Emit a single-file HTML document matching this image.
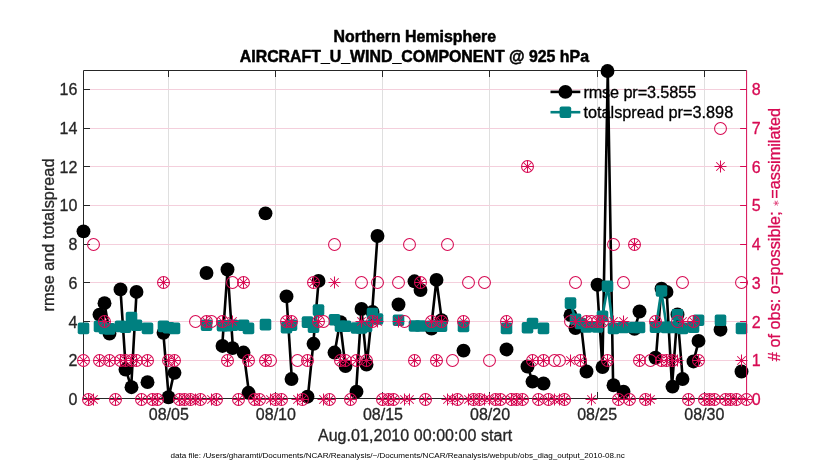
<!DOCTYPE html>
<html lang="en"><head><meta charset="utf-8"><title>Northern Hemisphere AIRCRAFT_U_WIND_COMPONENT @ 925 hPa</title>
<style>html,body{margin:0;padding:0;background:#fff}svg{display:block}text{font-family:"Liberation Sans",Arial,Helvetica,sans-serif;stroke-width:.3px;stroke-linejoin:round}.k{stroke:#000}.d{stroke:#262626}.r{stroke:#D70A53}.b{stroke:#000;stroke-width:.5px}</style></head><body>
<svg width="830" height="470" viewBox="0 0 830 470">
<rect width="830" height="470" fill="#fff"/>
<g stroke="#dfdfdf" stroke-width="1">
<line x1="168.5" y1="70.5" x2="168.5" y2="398.5"/>
<line x1="275.5" y1="70.5" x2="275.5" y2="398.5"/>
<line x1="382.5" y1="70.5" x2="382.5" y2="398.5"/>
<line x1="489.5" y1="70.5" x2="489.5" y2="398.5"/>
<line x1="597.5" y1="70.5" x2="597.5" y2="398.5"/>
<line x1="704.5" y1="70.5" x2="704.5" y2="398.5"/>
</g>
<g stroke="#f4cfdc" stroke-width="1">
<line x1="83.5" y1="360.5" x2="746.6" y2="360.5"/>
<line x1="83.5" y1="321.5" x2="746.6" y2="321.5"/>
<line x1="83.5" y1="282.5" x2="746.6" y2="282.5"/>
<line x1="83.5" y1="244.5" x2="746.6" y2="244.5"/>
<line x1="83.5" y1="205.5" x2="746.6" y2="205.5"/>
<line x1="83.5" y1="166.5" x2="746.6" y2="166.5"/>
<line x1="83.5" y1="128.5" x2="746.6" y2="128.5"/>
<line x1="83.5" y1="89.5" x2="746.6" y2="89.5"/>
</g>
<g stroke="#262626" stroke-width="1" fill="none">
<path d="M746.6,70.5H83.5V398.5H746.6"/>
<line x1="168.5" y1="70.5" x2="168.5" y2="77.0"/>
<line x1="168.5" y1="398.5" x2="168.5" y2="392.0"/>
<line x1="275.5" y1="70.5" x2="275.5" y2="77.0"/>
<line x1="275.5" y1="398.5" x2="275.5" y2="392.0"/>
<line x1="382.5" y1="70.5" x2="382.5" y2="77.0"/>
<line x1="382.5" y1="398.5" x2="382.5" y2="392.0"/>
<line x1="489.5" y1="70.5" x2="489.5" y2="77.0"/>
<line x1="489.5" y1="398.5" x2="489.5" y2="392.0"/>
<line x1="597.5" y1="70.5" x2="597.5" y2="77.0"/>
<line x1="597.5" y1="398.5" x2="597.5" y2="392.0"/>
<line x1="704.5" y1="70.5" x2="704.5" y2="77.0"/>
<line x1="704.5" y1="398.5" x2="704.5" y2="392.0"/>
<line x1="83.5" y1="398.5" x2="90.0" y2="398.5"/>
<line x1="83.5" y1="360.5" x2="90.0" y2="360.5"/>
<line x1="83.5" y1="321.5" x2="90.0" y2="321.5"/>
<line x1="83.5" y1="282.5" x2="90.0" y2="282.5"/>
<line x1="83.5" y1="244.5" x2="90.0" y2="244.5"/>
<line x1="83.5" y1="205.5" x2="90.0" y2="205.5"/>
<line x1="83.5" y1="166.5" x2="90.0" y2="166.5"/>
<line x1="83.5" y1="128.5" x2="90.0" y2="128.5"/>
<line x1="83.5" y1="89.5" x2="90.0" y2="89.5"/>
</g>
<g>
<line x1="550.5" y1="91.9" x2="580.3" y2="91.9" stroke="#000" stroke-width="2.6"/>
<circle cx="565.4" cy="91.9" r="6.95" fill="#000"/>
<line x1="550.5" y1="112.2" x2="580.3" y2="112.2" stroke="#008080" stroke-width="2.6"/>
<rect x="559.6" y="106.4" width="11.6" height="11.6" rx="2" fill="#008080"/>
<text class="k" x="583.4" y="97.6" font-size="16.3" textLength="112.8" fill="#000">rmse pr=3.5855</text>
<text class="k" x="583.4" y="117.6" font-size="16.3" fill="#000">totalspread pr=3.898</text>
</g>
<g stroke="#000" stroke-width="2.6" fill="none" stroke-linejoin="round" stroke-linecap="round">
<polyline points="99.06,314.59 104.42,303.17 109.77,333.56"/>
<polyline points="120.48,289.42 125.84,369.57 131.19,387.19 136.55,291.94"/>
<polyline points="163.32,332.79 168.68,397.26 174.03,372.86"/>
<polyline points="222.22,345.95 227.58,269.48 232.93,348.08"/>
<polyline points="243.64,352.54 249,392.8"/>
<polyline points="286.48,296.39 291.84,379.06"/>
<polyline points="307.9,396.68 313.26,343.82 318.61,280.9"/>
<polyline points="334.68,352.54 340.03,322.14 345.39,366.09"/>
<polyline points="356.09,391.64 361.45,308.98 366.8,364.54 372.16,311.88 377.51,235.99"/>
<polyline points="415,281.29 420.35,290"/>
<polyline points="431.06,328.53 436.42,279.94 441.77,320.2"/>
<polyline points="527.45,366.48 532.8,381.58"/>
<polyline points="570.29,315.17 575.64,328.14 581,324.46 586.35,371.51"/>
<polyline points="597.06,284.78 602.42,367.06 607.77,71.04 613.13,385.25"/>
<polyline points="634.54,328.92 639.9,311.49"/>
<polyline points="655.96,357.76 661.32,288.65 666.67,291.94 672.03,386.61 677.38,314.4 682.74,379.06"/>
<polyline points="693.45,361.44 698.8,340.92"/>
</g>
<g fill="#000">
<circle cx="83.5" cy="231.34" r="6.95"/>
<circle cx="99.5" cy="314.59" r="6.95"/>
<circle cx="104.5" cy="303.17" r="6.95"/>
<circle cx="109.5" cy="333.56" r="6.95"/>
<circle cx="120.5" cy="289.42" r="6.95"/>
<circle cx="125.5" cy="369.57" r="6.95"/>
<circle cx="131.5" cy="387.19" r="6.95"/>
<circle cx="136.5" cy="291.94" r="6.95"/>
<circle cx="147.5" cy="382.16" r="6.95"/>
<circle cx="163.5" cy="332.79" r="6.95"/>
<circle cx="168.5" cy="397.26" r="6.95"/>
<circle cx="174.5" cy="372.86" r="6.95"/>
<circle cx="206.5" cy="272.97" r="6.95"/>
<circle cx="222.5" cy="345.95" r="6.95"/>
<circle cx="227.5" cy="269.48" r="6.95"/>
<circle cx="232.5" cy="348.08" r="6.95"/>
<circle cx="243.5" cy="352.54" r="6.95"/>
<circle cx="248.5" cy="392.8" r="6.95"/>
<circle cx="265.5" cy="213.34" r="6.95"/>
<circle cx="286.5" cy="296.39" r="6.95"/>
<circle cx="291.5" cy="379.06" r="6.95"/>
<circle cx="307.5" cy="396.68" r="6.95"/>
<circle cx="313.5" cy="343.82" r="6.95"/>
<circle cx="318.5" cy="280.9" r="6.95"/>
<circle cx="334.5" cy="352.54" r="6.95"/>
<circle cx="340.5" cy="322.14" r="6.95"/>
<circle cx="345.5" cy="366.09" r="6.95"/>
<circle cx="356.5" cy="391.64" r="6.95"/>
<circle cx="361.5" cy="308.98" r="6.95"/>
<circle cx="366.5" cy="364.54" r="6.95"/>
<circle cx="372.5" cy="311.88" r="6.95"/>
<circle cx="377.5" cy="235.99" r="6.95"/>
<circle cx="398.5" cy="304.52" r="6.95"/>
<circle cx="414.5" cy="281.29" r="6.95"/>
<circle cx="420.5" cy="290" r="6.95"/>
<circle cx="431.5" cy="328.53" r="6.95"/>
<circle cx="436.5" cy="279.94" r="6.95"/>
<circle cx="441.5" cy="320.2" r="6.95"/>
<circle cx="463.5" cy="350.6" r="6.95"/>
<circle cx="506.5" cy="349.44" r="6.95"/>
<circle cx="527.5" cy="366.48" r="6.95"/>
<circle cx="532.5" cy="381.58" r="6.95"/>
<circle cx="543.5" cy="383.51" r="6.95"/>
<circle cx="570.5" cy="315.17" r="6.95"/>
<circle cx="575.5" cy="328.14" r="6.95"/>
<circle cx="580.5" cy="324.46" r="6.95"/>
<circle cx="586.5" cy="371.51" r="6.95"/>
<circle cx="597.5" cy="284.78" r="6.95"/>
<circle cx="602.5" cy="367.06" r="6.95"/>
<circle cx="607.5" cy="71.04" r="6.95"/>
<circle cx="613.5" cy="385.25" r="6.95"/>
<circle cx="623.5" cy="391.64" r="6.95"/>
<circle cx="634.5" cy="328.92" r="6.95"/>
<circle cx="639.5" cy="311.49" r="6.95"/>
<circle cx="655.5" cy="357.76" r="6.95"/>
<circle cx="661.5" cy="288.65" r="6.95"/>
<circle cx="666.5" cy="291.94" r="6.95"/>
<circle cx="672.5" cy="386.61" r="6.95"/>
<circle cx="677.5" cy="314.4" r="6.95"/>
<circle cx="682.5" cy="379.06" r="6.95"/>
<circle cx="693.5" cy="361.44" r="6.95"/>
<circle cx="698.5" cy="340.92" r="6.95"/>
<circle cx="720.5" cy="329.69" r="6.95"/>
<circle cx="741.5" cy="371.51" r="6.95"/>
</g>
<g stroke="#008080" stroke-width="2.6" fill="none" stroke-linejoin="round" stroke-linecap="round">
<polyline points="99.06,326.4 104.42,328.34 109.77,328.92"/>
<polyline points="120.48,326.4 125.84,327.17 131.19,317.49 136.55,325.24"/>
<polyline points="163.32,326.4 168.68,327.76 174.03,328.34"/>
<polyline points="222.22,325.82 227.58,325.82 232.93,325.24"/>
<polyline points="243.64,325.24 249,328.34"/>
<polyline points="286.48,327.76 291.84,325.24"/>
<polyline points="307.9,322.14 313.26,327.17 318.61,310.14"/>
<polyline points="334.68,319.82 340.03,326.21 345.39,326.21"/>
<polyline points="356.09,327.95 361.45,327.95 366.8,326.4 372.16,313.43 377.51,319.04"/>
<polyline points="415,326.01 420.35,326.01"/>
<polyline points="431.06,326.21 436.42,326.21 441.77,326.21"/>
<polyline points="527.45,327.76 532.8,323.5"/>
<polyline points="570.29,303.17 575.64,319.24 581,323.5 586.35,326.98"/>
<polyline points="597.06,326.98 602.42,316.33 607.77,286.32 613.13,328.34"/>
<polyline points="634.54,327.56 639.9,327.56"/>
<polyline points="655.96,327.17 661.32,290.97 666.67,327.37 672.03,327.37 677.38,314.78 682.74,328.34"/>
<polyline points="693.45,327.17 698.8,320.2"/>
</g>
<g fill="#008080">
<rect x="77.7" y="322.54" width="11.6" height="11.6" rx="2"/>
<rect x="93.7" y="320.6" width="11.6" height="11.6" rx="2"/>
<rect x="98.7" y="322.54" width="11.6" height="11.6" rx="2"/>
<rect x="103.7" y="323.12" width="11.6" height="11.6" rx="2"/>
<rect x="114.7" y="320.6" width="11.6" height="11.6" rx="2"/>
<rect x="119.7" y="321.37" width="11.6" height="11.6" rx="2"/>
<rect x="125.7" y="311.69" width="11.6" height="11.6" rx="2"/>
<rect x="130.7" y="319.44" width="11.6" height="11.6" rx="2"/>
<rect x="141.7" y="322.54" width="11.6" height="11.6" rx="2"/>
<rect x="157.7" y="320.6" width="11.6" height="11.6" rx="2"/>
<rect x="162.7" y="321.96" width="11.6" height="11.6" rx="2"/>
<rect x="168.7" y="322.54" width="11.6" height="11.6" rx="2"/>
<rect x="200.7" y="319.44" width="11.6" height="11.6" rx="2"/>
<rect x="216.7" y="320.02" width="11.6" height="11.6" rx="2"/>
<rect x="221.7" y="320.02" width="11.6" height="11.6" rx="2"/>
<rect x="226.7" y="319.44" width="11.6" height="11.6" rx="2"/>
<rect x="237.7" y="319.44" width="11.6" height="11.6" rx="2"/>
<rect x="242.7" y="322.54" width="11.6" height="11.6" rx="2"/>
<rect x="259.7" y="318.86" width="11.6" height="11.6" rx="2"/>
<rect x="280.7" y="321.96" width="11.6" height="11.6" rx="2"/>
<rect x="285.7" y="319.44" width="11.6" height="11.6" rx="2"/>
<rect x="301.7" y="316.34" width="11.6" height="11.6" rx="2"/>
<rect x="307.7" y="321.37" width="11.6" height="11.6" rx="2"/>
<rect x="312.7" y="304.34" width="11.6" height="11.6" rx="2"/>
<rect x="328.7" y="314.02" width="11.6" height="11.6" rx="2"/>
<rect x="334.7" y="320.41" width="11.6" height="11.6" rx="2"/>
<rect x="339.7" y="320.41" width="11.6" height="11.6" rx="2"/>
<rect x="350.7" y="322.15" width="11.6" height="11.6" rx="2"/>
<rect x="355.7" y="322.15" width="11.6" height="11.6" rx="2"/>
<rect x="360.7" y="320.6" width="11.6" height="11.6" rx="2"/>
<rect x="366.7" y="307.63" width="11.6" height="11.6" rx="2"/>
<rect x="371.7" y="313.24" width="11.6" height="11.6" rx="2"/>
<rect x="392.7" y="314.4" width="11.6" height="11.6" rx="2"/>
<rect x="408.7" y="320.21" width="11.6" height="11.6" rx="2"/>
<rect x="414.7" y="320.21" width="11.6" height="11.6" rx="2"/>
<rect x="425.7" y="320.41" width="11.6" height="11.6" rx="2"/>
<rect x="430.7" y="320.41" width="11.6" height="11.6" rx="2"/>
<rect x="435.7" y="320.41" width="11.6" height="11.6" rx="2"/>
<rect x="457.7" y="320.6" width="11.6" height="11.6" rx="2"/>
<rect x="500.7" y="322.54" width="11.6" height="11.6" rx="2"/>
<rect x="521.7" y="321.96" width="11.6" height="11.6" rx="2"/>
<rect x="526.7" y="317.7" width="11.6" height="11.6" rx="2"/>
<rect x="537.7" y="322.54" width="11.6" height="11.6" rx="2"/>
<rect x="564.7" y="297.37" width="11.6" height="11.6" rx="2"/>
<rect x="569.7" y="313.44" width="11.6" height="11.6" rx="2"/>
<rect x="574.7" y="317.7" width="11.6" height="11.6" rx="2"/>
<rect x="580.7" y="321.18" width="11.6" height="11.6" rx="2"/>
<rect x="591.7" y="321.18" width="11.6" height="11.6" rx="2"/>
<rect x="596.7" y="310.53" width="11.6" height="11.6" rx="2"/>
<rect x="601.7" y="280.52" width="11.6" height="11.6" rx="2"/>
<rect x="607.7" y="322.54" width="11.6" height="11.6" rx="2"/>
<rect x="617.7" y="321.76" width="11.6" height="11.6" rx="2"/>
<rect x="628.7" y="321.76" width="11.6" height="11.6" rx="2"/>
<rect x="633.7" y="321.76" width="11.6" height="11.6" rx="2"/>
<rect x="649.7" y="321.37" width="11.6" height="11.6" rx="2"/>
<rect x="655.7" y="285.17" width="11.6" height="11.6" rx="2"/>
<rect x="660.7" y="321.57" width="11.6" height="11.6" rx="2"/>
<rect x="666.7" y="321.57" width="11.6" height="11.6" rx="2"/>
<rect x="671.7" y="308.98" width="11.6" height="11.6" rx="2"/>
<rect x="676.7" y="322.54" width="11.6" height="11.6" rx="2"/>
<rect x="687.7" y="321.37" width="11.6" height="11.6" rx="2"/>
<rect x="692.7" y="314.4" width="11.6" height="11.6" rx="2"/>
<rect x="714.7" y="314.4" width="11.6" height="11.6" rx="2"/>
<rect x="735.7" y="322.54" width="11.6" height="11.6" rx="2"/>
</g>
<g stroke="#D70A53" stroke-width="1.05" fill="none">
<circle cx="83.5" cy="360.5" r="5.95"/>
<circle cx="88.5" cy="399.5" r="5.95"/>
<circle cx="93.5" cy="244.5" r="5.95"/>
<circle cx="99.5" cy="360.5" r="5.95"/>
<circle cx="104.5" cy="321.5" r="5.95"/>
<circle cx="109.5" cy="360.5" r="5.95"/>
<circle cx="115.5" cy="399.5" r="5.95"/>
<circle cx="120.5" cy="360.5" r="5.95"/>
<circle cx="125.5" cy="360.5" r="5.95"/>
<circle cx="131.5" cy="360.5" r="5.95"/>
<circle cx="136.5" cy="360.5" r="5.95"/>
<circle cx="141.5" cy="399.5" r="5.95"/>
<circle cx="147.5" cy="360.5" r="5.95"/>
<circle cx="152.5" cy="399.5" r="5.95"/>
<circle cx="157.5" cy="399.5" r="5.95"/>
<circle cx="163.5" cy="282.5" r="5.95"/>
<circle cx="168.5" cy="360.5" r="5.95"/>
<circle cx="174.5" cy="360.5" r="5.95"/>
<circle cx="179.5" cy="399.5" r="5.95"/>
<circle cx="184.5" cy="399.5" r="5.95"/>
<circle cx="190.5" cy="399.5" r="5.95"/>
<circle cx="195.5" cy="321.5" r="5.95"/>
<circle cx="200.5" cy="399.5" r="5.95"/>
<circle cx="206.5" cy="321.5" r="5.95"/>
<circle cx="211.5" cy="321.5" r="5.95"/>
<circle cx="216.5" cy="399.5" r="5.95"/>
<circle cx="222.5" cy="321.5" r="5.95"/>
<circle cx="227.5" cy="360.5" r="5.95"/>
<circle cx="232.5" cy="282.5" r="5.95"/>
<circle cx="238.5" cy="399.5" r="5.95"/>
<circle cx="243.5" cy="282.5" r="5.95"/>
<circle cx="248.5" cy="360.5" r="5.95"/>
<circle cx="254.5" cy="399.5" r="5.95"/>
<circle cx="259.5" cy="399.5" r="5.95"/>
<circle cx="265.5" cy="360.5" r="5.95"/>
<circle cx="270.5" cy="360.5" r="5.95"/>
<circle cx="275.5" cy="399.5" r="5.95"/>
<circle cx="281.5" cy="399.5" r="5.95"/>
<circle cx="286.5" cy="321.5" r="5.95"/>
<circle cx="291.5" cy="321.5" r="5.95"/>
<circle cx="297.5" cy="360.5" r="5.95"/>
<circle cx="302.5" cy="399.5" r="5.95"/>
<circle cx="307.5" cy="360.5" r="5.95"/>
<circle cx="313.5" cy="282.5" r="5.95"/>
<circle cx="318.5" cy="321.5" r="5.95"/>
<circle cx="323.5" cy="321.5" r="5.95"/>
<circle cx="329.5" cy="399.5" r="5.95"/>
<circle cx="334.5" cy="244.5" r="5.95"/>
<circle cx="340.5" cy="360.5" r="5.95"/>
<circle cx="345.5" cy="360.5" r="5.95"/>
<circle cx="350.5" cy="399.5" r="5.95"/>
<circle cx="356.5" cy="360.5" r="5.95"/>
<circle cx="361.5" cy="282.5" r="5.95"/>
<circle cx="366.5" cy="360.5" r="5.95"/>
<circle cx="372.5" cy="321.5" r="5.95"/>
<circle cx="377.5" cy="282.5" r="5.95"/>
<circle cx="382.5" cy="399.5" r="5.95"/>
<circle cx="388.5" cy="399.5" r="5.95"/>
<circle cx="393.5" cy="399.5" r="5.95"/>
<circle cx="398.5" cy="282.5" r="5.95"/>
<circle cx="404.5" cy="321.5" r="5.95"/>
<circle cx="409.5" cy="244.5" r="5.95"/>
<circle cx="414.5" cy="360.5" r="5.95"/>
<circle cx="420.5" cy="282.5" r="5.95"/>
<circle cx="425.5" cy="399.5" r="5.95"/>
<circle cx="431.5" cy="321.5" r="5.95"/>
<circle cx="436.5" cy="360.5" r="5.95"/>
<circle cx="441.5" cy="321.5" r="5.95"/>
<circle cx="447.5" cy="244.5" r="5.95"/>
<circle cx="452.5" cy="360.5" r="5.95"/>
<circle cx="457.5" cy="399.5" r="5.95"/>
<circle cx="463.5" cy="321.5" r="5.95"/>
<circle cx="468.5" cy="282.5" r="5.95"/>
<circle cx="473.5" cy="399.5" r="5.95"/>
<circle cx="479.5" cy="399.5" r="5.95"/>
<circle cx="484.5" cy="282.5" r="5.95"/>
<circle cx="489.5" cy="360.5" r="5.95"/>
<circle cx="495.5" cy="399.5" r="5.95"/>
<circle cx="500.5" cy="399.5" r="5.95"/>
<circle cx="506.5" cy="321.5" r="5.95"/>
<circle cx="511.5" cy="399.5" r="5.95"/>
<circle cx="516.5" cy="399.5" r="5.95"/>
<circle cx="522.5" cy="399.5" r="5.95"/>
<circle cx="527.5" cy="166.5" r="5.95"/>
<circle cx="532.5" cy="360.5" r="5.95"/>
<circle cx="538.5" cy="399.5" r="5.95"/>
<circle cx="543.5" cy="360.5" r="5.95"/>
<circle cx="548.5" cy="399.5" r="5.95"/>
<circle cx="554.5" cy="360.5" r="5.95"/>
<circle cx="559.5" cy="360.5" r="5.95"/>
<circle cx="564.5" cy="399.5" r="5.95"/>
<circle cx="570.5" cy="321.5" r="5.95"/>
<circle cx="575.5" cy="282.5" r="5.95"/>
<circle cx="580.5" cy="360.5" r="5.95"/>
<circle cx="586.5" cy="321.5" r="5.95"/>
<circle cx="591.5" cy="321.5" r="5.95"/>
<circle cx="597.5" cy="321.5" r="5.95"/>
<circle cx="602.5" cy="321.5" r="5.95"/>
<circle cx="607.5" cy="360.5" r="5.95"/>
<circle cx="613.5" cy="244.5" r="5.95"/>
<circle cx="618.5" cy="399.5" r="5.95"/>
<circle cx="623.5" cy="282.5" r="5.95"/>
<circle cx="629.5" cy="399.5" r="5.95"/>
<circle cx="634.5" cy="244.5" r="5.95"/>
<circle cx="639.5" cy="360.5" r="5.95"/>
<circle cx="645.5" cy="399.5" r="5.95"/>
<circle cx="650.5" cy="360.5" r="5.95"/>
<circle cx="655.5" cy="321.5" r="5.95"/>
<circle cx="661.5" cy="360.5" r="5.95"/>
<circle cx="666.5" cy="360.5" r="5.95"/>
<circle cx="672.5" cy="360.5" r="5.95"/>
<circle cx="677.5" cy="321.5" r="5.95"/>
<circle cx="682.5" cy="282.5" r="5.95"/>
<circle cx="688.5" cy="399.5" r="5.95"/>
<circle cx="693.5" cy="321.5" r="5.95"/>
<circle cx="698.5" cy="360.5" r="5.95"/>
<circle cx="704.5" cy="399.5" r="5.95"/>
<circle cx="709.5" cy="399.5" r="5.95"/>
<circle cx="714.5" cy="399.5" r="5.95"/>
<circle cx="720.5" cy="128.5" r="5.95"/>
<circle cx="725.5" cy="399.5" r="5.95"/>
<circle cx="730.5" cy="399.5" r="5.95"/>
<circle cx="736.5" cy="399.5" r="5.95"/>
<circle cx="741.5" cy="282.5" r="5.95"/>
<circle cx="746.5" cy="399.5" r="5.95"/>
<path d="M77.5,360.5h12M83.5,354.5v12M79.25,356.25l8.5,8.5M79.25,364.75l8.5,-8.5M82.5,399.5h12M88.5,393.5v12M84.25,395.25l8.5,8.5M84.25,403.75l8.5,-8.5M87.5,399.5h12M93.5,393.5v12M89.25,395.25l8.5,8.5M89.25,403.75l8.5,-8.5M93.5,360.5h12M99.5,354.5v12M95.25,356.25l8.5,8.5M95.25,364.75l8.5,-8.5M98.5,321.5h12M104.5,315.5v12M100.25,317.25l8.5,8.5M100.25,325.75l8.5,-8.5M103.5,360.5h12M109.5,354.5v12M105.25,356.25l8.5,8.5M105.25,364.75l8.5,-8.5M109.5,399.5h12M115.5,393.5v12M111.25,395.25l8.5,8.5M111.25,403.75l8.5,-8.5M114.5,360.5h12M120.5,354.5v12M116.25,356.25l8.5,8.5M116.25,364.75l8.5,-8.5M119.5,360.5h12M125.5,354.5v12M121.25,356.25l8.5,8.5M121.25,364.75l8.5,-8.5M125.5,360.5h12M131.5,354.5v12M127.25,356.25l8.5,8.5M127.25,364.75l8.5,-8.5M130.5,360.5h12M136.5,354.5v12M132.25,356.25l8.5,8.5M132.25,364.75l8.5,-8.5M135.5,399.5h12M141.5,393.5v12M137.25,395.25l8.5,8.5M137.25,403.75l8.5,-8.5M141.5,360.5h12M147.5,354.5v12M143.25,356.25l8.5,8.5M143.25,364.75l8.5,-8.5M146.5,399.5h12M152.5,393.5v12M148.25,395.25l8.5,8.5M148.25,403.75l8.5,-8.5M151.5,399.5h12M157.5,393.5v12M153.25,395.25l8.5,8.5M153.25,403.75l8.5,-8.5M157.5,282.5h12M163.5,276.5v12M159.25,278.25l8.5,8.5M159.25,286.75l8.5,-8.5M162.5,360.5h12M168.5,354.5v12M164.25,356.25l8.5,8.5M164.25,364.75l8.5,-8.5M168.5,360.5h12M174.5,354.5v12M170.25,356.25l8.5,8.5M170.25,364.75l8.5,-8.5M173.5,399.5h12M179.5,393.5v12M175.25,395.25l8.5,8.5M175.25,403.75l8.5,-8.5M178.5,399.5h12M184.5,393.5v12M180.25,395.25l8.5,8.5M180.25,403.75l8.5,-8.5M184.5,399.5h12M190.5,393.5v12M186.25,395.25l8.5,8.5M186.25,403.75l8.5,-8.5M189.5,399.5h12M195.5,393.5v12M191.25,395.25l8.5,8.5M191.25,403.75l8.5,-8.5M194.5,399.5h12M200.5,393.5v12M196.25,395.25l8.5,8.5M196.25,403.75l8.5,-8.5M200.5,321.5h12M206.5,315.5v12M202.25,317.25l8.5,8.5M202.25,325.75l8.5,-8.5M205.5,399.5h12M211.5,393.5v12M207.25,395.25l8.5,8.5M207.25,403.75l8.5,-8.5M210.5,399.5h12M216.5,393.5v12M212.25,395.25l8.5,8.5M212.25,403.75l8.5,-8.5M216.5,321.5h12M222.5,315.5v12M218.25,317.25l8.5,8.5M218.25,325.75l8.5,-8.5M221.5,360.5h12M227.5,354.5v12M223.25,356.25l8.5,8.5M223.25,364.75l8.5,-8.5M226.5,321.5h12M232.5,315.5v12M228.25,317.25l8.5,8.5M228.25,325.75l8.5,-8.5M232.5,399.5h12M238.5,393.5v12M234.25,395.25l8.5,8.5M234.25,403.75l8.5,-8.5M237.5,282.5h12M243.5,276.5v12M239.25,278.25l8.5,8.5M239.25,286.75l8.5,-8.5M242.5,360.5h12M248.5,354.5v12M244.25,356.25l8.5,8.5M244.25,364.75l8.5,-8.5M248.5,399.5h12M254.5,393.5v12M250.25,395.25l8.5,8.5M250.25,403.75l8.5,-8.5M253.5,399.5h12M259.5,393.5v12M255.25,395.25l8.5,8.5M255.25,403.75l8.5,-8.5M259.5,360.5h12M265.5,354.5v12M261.25,356.25l8.5,8.5M261.25,364.75l8.5,-8.5M264.5,399.5h12M270.5,393.5v12M266.25,395.25l8.5,8.5M266.25,403.75l8.5,-8.5M269.5,399.5h12M275.5,393.5v12M271.25,395.25l8.5,8.5M271.25,403.75l8.5,-8.5M275.5,399.5h12M281.5,393.5v12M277.25,395.25l8.5,8.5M277.25,403.75l8.5,-8.5M280.5,321.5h12M286.5,315.5v12M282.25,317.25l8.5,8.5M282.25,325.75l8.5,-8.5M285.5,321.5h12M291.5,315.5v12M287.25,317.25l8.5,8.5M287.25,325.75l8.5,-8.5M291.5,399.5h12M297.5,393.5v12M293.25,395.25l8.5,8.5M293.25,403.75l8.5,-8.5M296.5,399.5h12M302.5,393.5v12M298.25,395.25l8.5,8.5M298.25,403.75l8.5,-8.5M301.5,360.5h12M307.5,354.5v12M303.25,356.25l8.5,8.5M303.25,364.75l8.5,-8.5M307.5,282.5h12M313.5,276.5v12M309.25,278.25l8.5,8.5M309.25,286.75l8.5,-8.5M312.5,321.5h12M318.5,315.5v12M314.25,317.25l8.5,8.5M314.25,325.75l8.5,-8.5M317.5,399.5h12M323.5,393.5v12M319.25,395.25l8.5,8.5M319.25,403.75l8.5,-8.5M323.5,399.5h12M329.5,393.5v12M325.25,395.25l8.5,8.5M325.25,403.75l8.5,-8.5M328.5,282.5h12M334.5,276.5v12M330.25,278.25l8.5,8.5M330.25,286.75l8.5,-8.5M334.5,360.5h12M340.5,354.5v12M336.25,356.25l8.5,8.5M336.25,364.75l8.5,-8.5M339.5,360.5h12M345.5,354.5v12M341.25,356.25l8.5,8.5M341.25,364.75l8.5,-8.5M344.5,399.5h12M350.5,393.5v12M346.25,395.25l8.5,8.5M346.25,403.75l8.5,-8.5M350.5,360.5h12M356.5,354.5v12M352.25,356.25l8.5,8.5M352.25,364.75l8.5,-8.5M355.5,321.5h12M361.5,315.5v12M357.25,317.25l8.5,8.5M357.25,325.75l8.5,-8.5M360.5,360.5h12M366.5,354.5v12M362.25,356.25l8.5,8.5M362.25,364.75l8.5,-8.5M366.5,321.5h12M372.5,315.5v12M368.25,317.25l8.5,8.5M368.25,325.75l8.5,-8.5M371.5,321.5h12M377.5,315.5v12M373.25,317.25l8.5,8.5M373.25,325.75l8.5,-8.5M376.5,399.5h12M382.5,393.5v12M378.25,395.25l8.5,8.5M378.25,403.75l8.5,-8.5M382.5,399.5h12M388.5,393.5v12M384.25,395.25l8.5,8.5M384.25,403.75l8.5,-8.5M387.5,399.5h12M393.5,393.5v12M389.25,395.25l8.5,8.5M389.25,403.75l8.5,-8.5M392.5,321.5h12M398.5,315.5v12M394.25,317.25l8.5,8.5M394.25,325.75l8.5,-8.5M398.5,399.5h12M404.5,393.5v12M400.25,395.25l8.5,8.5M400.25,403.75l8.5,-8.5M403.5,399.5h12M409.5,393.5v12M405.25,395.25l8.5,8.5M405.25,403.75l8.5,-8.5M408.5,360.5h12M414.5,354.5v12M410.25,356.25l8.5,8.5M410.25,364.75l8.5,-8.5M414.5,282.5h12M420.5,276.5v12M416.25,278.25l8.5,8.5M416.25,286.75l8.5,-8.5M419.5,399.5h12M425.5,393.5v12M421.25,395.25l8.5,8.5M421.25,403.75l8.5,-8.5M425.5,321.5h12M431.5,315.5v12M427.25,317.25l8.5,8.5M427.25,325.75l8.5,-8.5M430.5,360.5h12M436.5,354.5v12M432.25,356.25l8.5,8.5M432.25,364.75l8.5,-8.5M435.5,321.5h12M441.5,315.5v12M437.25,317.25l8.5,8.5M437.25,325.75l8.5,-8.5M441.5,399.5h12M447.5,393.5v12M443.25,395.25l8.5,8.5M443.25,403.75l8.5,-8.5M446.5,399.5h12M452.5,393.5v12M448.25,395.25l8.5,8.5M448.25,403.75l8.5,-8.5M451.5,399.5h12M457.5,393.5v12M453.25,395.25l8.5,8.5M453.25,403.75l8.5,-8.5M457.5,321.5h12M463.5,315.5v12M459.25,317.25l8.5,8.5M459.25,325.75l8.5,-8.5M462.5,399.5h12M468.5,393.5v12M464.25,395.25l8.5,8.5M464.25,403.75l8.5,-8.5M467.5,399.5h12M473.5,393.5v12M469.25,395.25l8.5,8.5M469.25,403.75l8.5,-8.5M473.5,399.5h12M479.5,393.5v12M475.25,395.25l8.5,8.5M475.25,403.75l8.5,-8.5M478.5,399.5h12M484.5,393.5v12M480.25,395.25l8.5,8.5M480.25,403.75l8.5,-8.5M483.5,399.5h12M489.5,393.5v12M485.25,395.25l8.5,8.5M485.25,403.75l8.5,-8.5M489.5,399.5h12M495.5,393.5v12M491.25,395.25l8.5,8.5M491.25,403.75l8.5,-8.5M494.5,399.5h12M500.5,393.5v12M496.25,395.25l8.5,8.5M496.25,403.75l8.5,-8.5M500.5,321.5h12M506.5,315.5v12M502.25,317.25l8.5,8.5M502.25,325.75l8.5,-8.5M505.5,399.5h12M511.5,393.5v12M507.25,395.25l8.5,8.5M507.25,403.75l8.5,-8.5M510.5,399.5h12M516.5,393.5v12M512.25,395.25l8.5,8.5M512.25,403.75l8.5,-8.5M516.5,399.5h12M522.5,393.5v12M518.25,395.25l8.5,8.5M518.25,403.75l8.5,-8.5M521.5,166.5h12M527.5,160.5v12M523.25,162.25l8.5,8.5M523.25,170.75l8.5,-8.5M526.5,360.5h12M532.5,354.5v12M528.25,356.25l8.5,8.5M528.25,364.75l8.5,-8.5M532.5,399.5h12M538.5,393.5v12M534.25,395.25l8.5,8.5M534.25,403.75l8.5,-8.5M537.5,360.5h12M543.5,354.5v12M539.25,356.25l8.5,8.5M539.25,364.75l8.5,-8.5M542.5,399.5h12M548.5,393.5v12M544.25,395.25l8.5,8.5M544.25,403.75l8.5,-8.5M548.5,399.5h12M554.5,393.5v12M550.25,395.25l8.5,8.5M550.25,403.75l8.5,-8.5M553.5,399.5h12M559.5,393.5v12M555.25,395.25l8.5,8.5M555.25,403.75l8.5,-8.5M558.5,399.5h12M564.5,393.5v12M560.25,395.25l8.5,8.5M560.25,403.75l8.5,-8.5M564.5,360.5h12M570.5,354.5v12M566.25,356.25l8.5,8.5M566.25,364.75l8.5,-8.5M569.5,321.5h12M575.5,315.5v12M571.25,317.25l8.5,8.5M571.25,325.75l8.5,-8.5M574.5,360.5h12M580.5,354.5v12M576.25,356.25l8.5,8.5M576.25,364.75l8.5,-8.5M580.5,321.5h12M586.5,315.5v12M582.25,317.25l8.5,8.5M582.25,325.75l8.5,-8.5M585.5,399.5h12M591.5,393.5v12M587.25,395.25l8.5,8.5M587.25,403.75l8.5,-8.5M591.5,321.5h12M597.5,315.5v12M593.25,317.25l8.5,8.5M593.25,325.75l8.5,-8.5M596.5,321.5h12M602.5,315.5v12M598.25,317.25l8.5,8.5M598.25,325.75l8.5,-8.5M601.5,360.5h12M607.5,354.5v12M603.25,356.25l8.5,8.5M603.25,364.75l8.5,-8.5M607.5,321.5h12M613.5,315.5v12M609.25,317.25l8.5,8.5M609.25,325.75l8.5,-8.5M612.5,399.5h12M618.5,393.5v12M614.25,395.25l8.5,8.5M614.25,403.75l8.5,-8.5M617.5,321.5h12M623.5,315.5v12M619.25,317.25l8.5,8.5M619.25,325.75l8.5,-8.5M623.5,399.5h12M629.5,393.5v12M625.25,395.25l8.5,8.5M625.25,403.75l8.5,-8.5M628.5,244.5h12M634.5,238.5v12M630.25,240.25l8.5,8.5M630.25,248.75l8.5,-8.5M633.5,360.5h12M639.5,354.5v12M635.25,356.25l8.5,8.5M635.25,364.75l8.5,-8.5M639.5,399.5h12M645.5,393.5v12M641.25,395.25l8.5,8.5M641.25,403.75l8.5,-8.5M644.5,399.5h12M650.5,393.5v12M646.25,395.25l8.5,8.5M646.25,403.75l8.5,-8.5M649.5,321.5h12M655.5,315.5v12M651.25,317.25l8.5,8.5M651.25,325.75l8.5,-8.5M655.5,360.5h12M661.5,354.5v12M657.25,356.25l8.5,8.5M657.25,364.75l8.5,-8.5M660.5,360.5h12M666.5,354.5v12M662.25,356.25l8.5,8.5M662.25,364.75l8.5,-8.5M666.5,360.5h12M672.5,354.5v12M668.25,356.25l8.5,8.5M668.25,364.75l8.5,-8.5M671.5,360.5h12M677.5,354.5v12M673.25,356.25l8.5,8.5M673.25,364.75l8.5,-8.5M676.5,321.5h12M682.5,315.5v12M678.25,317.25l8.5,8.5M678.25,325.75l8.5,-8.5M682.5,399.5h12M688.5,393.5v12M684.25,395.25l8.5,8.5M684.25,403.75l8.5,-8.5M687.5,321.5h12M693.5,315.5v12M689.25,317.25l8.5,8.5M689.25,325.75l8.5,-8.5M692.5,360.5h12M698.5,354.5v12M694.25,356.25l8.5,8.5M694.25,364.75l8.5,-8.5M698.5,399.5h12M704.5,393.5v12M700.25,395.25l8.5,8.5M700.25,403.75l8.5,-8.5M703.5,399.5h12M709.5,393.5v12M705.25,395.25l8.5,8.5M705.25,403.75l8.5,-8.5M708.5,399.5h12M714.5,393.5v12M710.25,395.25l8.5,8.5M710.25,403.75l8.5,-8.5M714.5,166.5h12M720.5,160.5v12M716.25,162.25l8.5,8.5M716.25,170.75l8.5,-8.5M719.5,399.5h12M725.5,393.5v12M721.25,395.25l8.5,8.5M721.25,403.75l8.5,-8.5M724.5,399.5h12M730.5,393.5v12M726.25,395.25l8.5,8.5M726.25,403.75l8.5,-8.5M730.5,399.5h12M736.5,393.5v12M732.25,395.25l8.5,8.5M732.25,403.75l8.5,-8.5M735.5,360.5h12M741.5,354.5v12M737.25,356.25l8.5,8.5M737.25,364.75l8.5,-8.5M740.5,399.5h12M746.5,393.5v12M742.25,395.25l8.5,8.5M742.25,403.75l8.5,-8.5"/>
</g>
<g stroke="#D70A53" stroke-width="1" fill="none">
<line x1="746.6" y1="70.5" x2="746.6" y2="398.5"/>
<line x1="746.6" y1="398.5" x2="740.1" y2="398.5"/>
<line x1="746.6" y1="360.5" x2="740.1" y2="360.5"/>
<line x1="746.6" y1="321.5" x2="740.1" y2="321.5"/>
<line x1="746.6" y1="282.5" x2="740.1" y2="282.5"/>
<line x1="746.6" y1="244.5" x2="740.1" y2="244.5"/>
<line x1="746.6" y1="205.5" x2="740.1" y2="205.5"/>
<line x1="746.6" y1="166.5" x2="740.1" y2="166.5"/>
<line x1="746.6" y1="128.5" x2="740.1" y2="128.5"/>
<line x1="746.6" y1="89.5" x2="740.1" y2="89.5"/>
</g>
<g class="d" font-size="16" fill="#262626" text-anchor="end">
<text x="77.4" y="405.2">0</text>
<text x="77.4" y="366.45">2</text>
<text x="77.4" y="327.7">4</text>
<text x="77.4" y="288.95">6</text>
<text x="77.4" y="250.2">8</text>
<text x="77.4" y="211.45">10</text>
<text x="77.4" y="172.7">12</text>
<text x="77.4" y="133.95">14</text>
<text x="77.4" y="95.2">16</text>
</g>
<g class="r" font-size="16" fill="#D70A53">
<text x="751.8" y="405.2">0</text>
<text x="751.8" y="366.45">1</text>
<text x="751.8" y="327.7">2</text>
<text x="751.8" y="288.95">3</text>
<text x="751.8" y="250.2">4</text>
<text x="751.8" y="211.45">5</text>
<text x="751.8" y="172.7">6</text>
<text x="751.8" y="133.95">7</text>
<text x="751.8" y="95.2">8</text>
</g>
<g class="d" font-size="16" fill="#262626" text-anchor="middle">
<text x="168.78" y="419.8">08/05</text>
<text x="275.87" y="419.8">08/10</text>
<text x="382.97" y="419.8">08/15</text>
<text x="490.06" y="419.8">08/20</text>
<text x="597.16" y="419.8">08/25</text>
<text x="704.26" y="419.8">08/30</text>
</g>
<text class="d" x="415.1" y="440.6" textLength="194.3" font-size="16" fill="#262626" text-anchor="middle">Aug.01,2010 00:00:00 start</text>
<text class="d" transform="translate(53.6,235) rotate(-90)" font-size="16.3" fill="#262626" text-anchor="middle">rmse and totalspread</text>
<text class="r" transform="translate(780.4,234.5) rotate(-90)" font-size="16.3" fill="#D70A53" text-anchor="middle"># of obs: o=possible; <tspan font-size="8.6" dy="-1.8" stroke="none" fill-opacity=".8">∗</tspan><tspan dy="1.8">=assimilated</tspan></text>
<text class="b" x="414.8" y="41.6" font-size="15.9" font-weight="bold" fill="#000" text-anchor="middle">Northern Hemisphere</text>
<text class="b" x="414.4" y="61.5" font-size="15.9" font-weight="bold" fill="#000" text-anchor="middle">AIRCRAFT_U_WIND_COMPONENT @ 925 hPa</text>
<text x="170.5" y="458" font-size="8.08" fill="#000">data file: /Users/gharamti/Documents/NCAR/Reanalysis/~/Documents/NCAR/Reanalysis/webpub/obs_diag_output_2010-08.nc</text>
</svg></body></html>
